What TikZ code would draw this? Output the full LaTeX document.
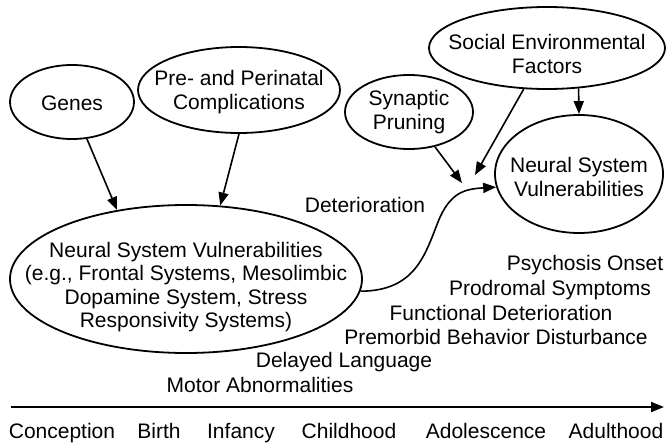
\documentclass[tikz,border=0pt]{standalone}
\usepackage{fontspec}
\setmainfont{Liberation Sans}
\usetikzlibrary{arrows.meta, shapes.geometric}

\begin{document}
\begin{tikzpicture}[x=1pt,y=-1pt,font=\fontsize{21}{23.3}\selectfont,
    blob/.style={draw,ellipse,line width=1.8pt,inner sep=0pt},
    txt/.style={align=center,inner sep=0pt},
    arr/.style={-{Triangle[length=13pt,width=10pt]},line width=1.6pt}]
    \useasboundingbox (0,0) rectangle (667,444);
    % ellipses
    \node[blob,minimum width=124pt,minimum height=74pt](genes) at (72,102){};
    \node[blob,minimum width=202pt,minimum height=86pt](peri) at (239,90){};
    \node[blob,minimum width=352pt,minimum height=148pt](nsv) at (186,279){};
    \node[blob,minimum width=128pt,minimum height=74pt](syn) at (409,112){};
    \node[blob,minimum width=236pt,minimum height=82pt](soc) at (547,48){};
    \node[blob,minimum width=168pt,minimum height=118pt](nsvr) at (579,174){};
    % texts in the ellipses
    \node[txt](genest) at (72,103){Genes};
    \node[txt](perit) at (239,92){Pre- and Perinatal\\Complications};
    \node[txt](nsvt) at (186,287){Neural System Vulnerabilities\\(e.g., Frontal Systems, Mesolimbic\\Dopamine System, Stress\\Responsivity Systems)};
    \node[txt](synt) at (409,112){Synaptic\\Pruning};
    \node[txt](soct) at (547,54){Social Environmental\\Factors};
    \node[txt](nsvrt) at (579,177){Neural System\\Vulnerabilities};
    % free texts
    \node[txt](det) at (365,205){Deterioration};
    \node[txt](onset) at (585,265){Psychosis Onset};
    \node[txt](prod) at (550,290){Prodromal Symptoms};
    \node[txt](func) at (501,313){Functional Deterioration};
    \node[txt](prem) at (496,337){Premorbid Behavior Disturbance};
    \node[txt](lang) at (344,362){Delayed Language};
    \node[txt](motor) at (260,385){Motor Abnormalities};
    % arrows
    \coordinate (sp) at (462,183);
    \coordinate (sf) at (475,175);
    \draw[arr](genes.-68)--(nsv.135);
    \draw[arr](peri.south)--(nsv.65);
    \draw[arr](syn)--(sp);
    \draw[arr](soc)--(sf);
    \draw[arr](soc.-52)--(nsvr.north);
    \draw[arr](nsv.-4) .. controls (415,291) and (425,255) .. (438,222)
        .. controls (450,192) and (465,189) .. (nsvr.189);
    % time line
    \coordinate (ax0) at (11,407);
    \coordinate (ax1) at (664,407);
    \draw[arr,line width=2pt](ax0)--(ax1);
    \foreach \x/\t in {62/Conception,159/Birth,241/Infancy,349/Childhood,486/Adolescence,616/Adulthood}
        \node[txt,anchor=base](t-\t) at (\x,438){\t};
\end{tikzpicture}
\end{document}
